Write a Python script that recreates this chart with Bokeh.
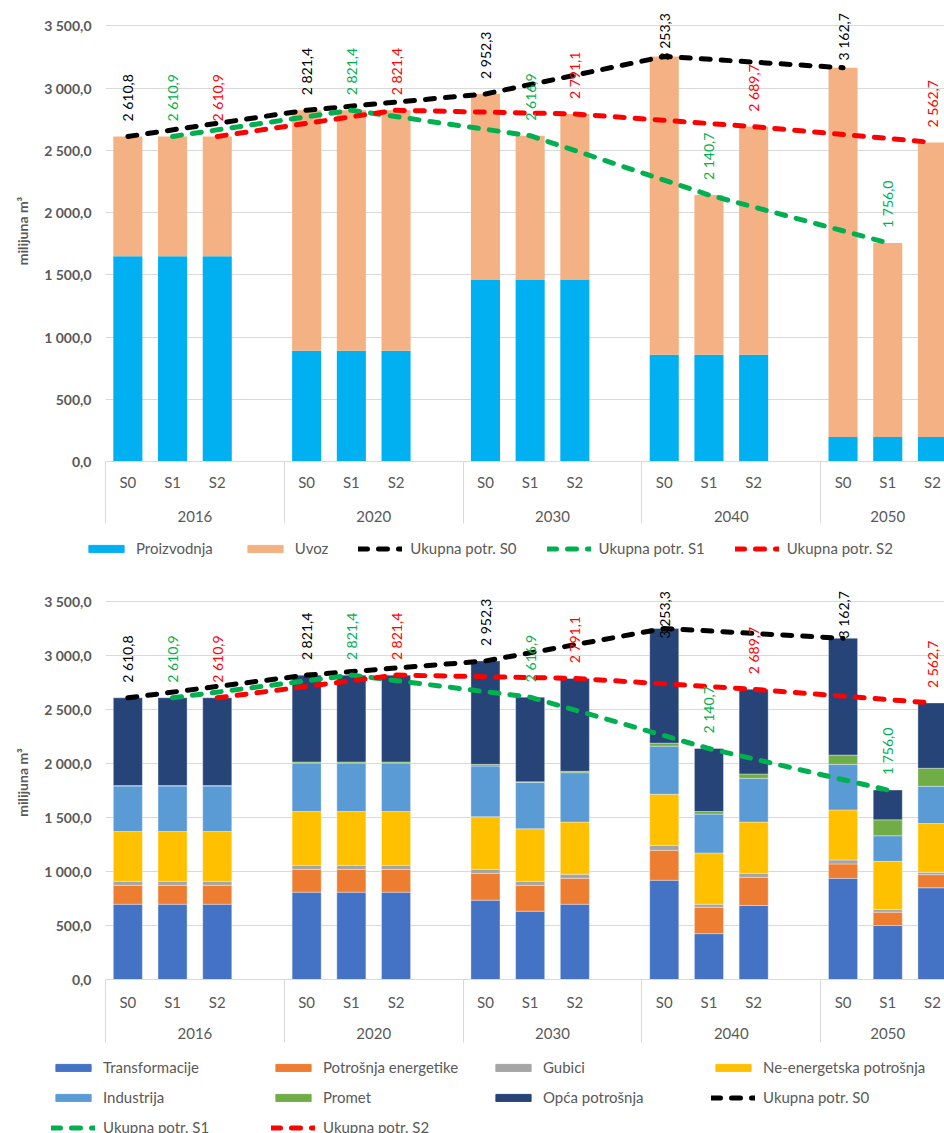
import math
from bokeh.plotting import figure
from bokeh.models import (ColumnDataSource, FixedTicker, LinearAxis, Legend,
                          LegendItem, Range1d, Title)
from bokeh.layouts import column
from bokeh.embed import file_html
from bokeh.resources import INLINE
from bokeh.core.properties import value

# ---------------- data ----------------
years = ["2016", "2020", "2030", "2040", "2050"]
scenarios = ["S0", "S1", "S2"]

# bars ordered 2016 S0, S1, S2, 2020 S0, S1, S2, ...
proizvodnja = [1648, 1648, 1648, 890, 890, 890, 1462, 1462, 1462, 858, 858, 858, 197, 197, 197]
uvoz = [963, 963, 963, 1931, 1931, 1931, 1490, 1155, 1329, 2395, 1283, 1832, 2966, 1559, 2366]

ukupna_s0 = [2610.8, 2821.4, 2952.3, 3253.3, 3162.7]
ukupna_s1 = [2610.9, 2821.4, 2616.9, 2140.7, 1756.0]
ukupna_s2 = [2610.9, 2821.4, 2791.1, 2689.7, 2562.7]

transformacije = [698, 698, 698, 809, 809, 809, 735, 633, 698, 920, 425, 686, 938, 500, 850]
potrosnja_energetike = [175, 175, 175, 212, 212, 212, 249, 240, 240, 277, 245, 261, 133, 124, 122]
gubici = [37, 37, 37, 37, 37, 37, 37, 37, 37, 46, 28, 37, 37, 25, 22]
ne_energetska = [462, 462, 462, 499, 499, 499, 487, 487, 484, 474, 475, 475, 464, 446, 452]
industrija = [422, 422, 422, 449, 449, 449, 471, 431, 458, 446, 360, 406, 422, 237, 345]
promet = [3, 3, 3, 10, 10, 10, 15, 4, 13, 28, 24, 40, 86, 148, 167]
opca = [814, 814, 814, 805, 805, 805, 958, 785, 861, 1062, 584, 785, 1083, 276, 605]

y_tick_values = [0, 500, 1000, 1500, 2000, 2500, 3000, 3500]

# ---------------- styling / layout ----------------
FONT = "Lato"
GRAY = "#595959"
GRID = "#d9d9d9"
LINE_COLORS = ["#000000", "#00B050", "#FF0000"]
TOP_COLORS = ["#00B0F0", "#F4B183"]
BOT_COLORS = ["#4472C4", "#ED7D31", "#A5A5A5", "#FFC000", "#5B9BD5", "#70AD47", "#264478"]
LINE_KW = dict(line_width=5, line_dash="9 11", line_cap="round")
SLOT_PX = 44.7
FIG_W = 944
LEFT = 105
FRAME_W = FIG_W - LEFT
X_START = -0.5
X_END = X_START + FRAME_W / SLOT_PX
BAR_W = 0.65

# categorical slots: 4 per year (S0, S1, S2, blank); last year without blank
bar_x = [4 * g + s for g in range(len(years)) for s in range(len(scenarios))]
line_x = [[4 * g + s for g in range(len(years))] for s in range(len(scenarios))]
group_centers = [4 * g + 1.5 for g in range(len(years) - 1)] + [4 * (len(years) - 1) + 1]
separators = [4 * g - 0.5 for g in range(len(years))]
sub_labels = {x: scenarios[i % 3] for i, x in enumerate(bar_x)}
year_labels = {c: y for c, y in zip(group_centers, years)}


def fmt(v):
    return f"{v:,.1f}".replace(",", " ").replace(".", ",")


def make_fig(height, top, frame_h, px_per_unit, sep_len, sub_standoff, year_standoff,
             title_offset):
    y_end = frame_h / px_per_unit
    p = figure(width=FIG_W, height=height, output_backend="svg", toolbar_location=None,
               title=None, x_range=Range1d(X_START, X_END), y_range=Range1d(0, y_end),
               min_border_left=LEFT, min_border_right=0, min_border_top=top,
               min_border_bottom=height - top - frame_h)
    p.outline_line_color = None
    p.background_fill_color = "white"
    p.border_fill_color = "white"
    p.xgrid.grid_line_color = None
    p.ygrid.ticker = FixedTicker(ticks=y_tick_values)
    p.ygrid.grid_line_color = GRID
    p.ygrid.grid_line_width = 1

    ya = p.yaxis[0]
    ya.ticker = FixedTicker(ticks=y_tick_values)
    ya.major_label_overrides = {v: fmt(v) for v in y_tick_values}
    ya.axis_line_color = None
    ya.major_tick_line_color = None
    ya.minor_tick_line_color = None
    ya.major_tick_out = 0
    ya.minor_tick_out = 0
    ya.major_label_text_font = FONT
    ya.major_label_text_font_style = "bold"
    ya.major_label_text_font_size = "14px"
    ya.major_label_text_color = GRAY
    ya.major_label_standoff = 14
    p.add_layout(Title(text="milijuna m³", align="center", offset=title_offset,
                       standoff=22, text_font=FONT, text_font_size="14px",
                       text_font_style="bold", text_color=GRAY), "left")

    xa = p.xaxis[0]
    xa.ticker = FixedTicker(ticks=bar_x, minor_ticks=separators)
    xa.major_label_overrides = sub_labels
    xa.axis_line_color = GRID
    xa.major_tick_line_color = None
    xa.major_tick_out = 0
    xa.major_tick_in = 0
    xa.minor_tick_line_color = GRID
    xa.minor_tick_in = 0
    xa.minor_tick_out = sep_len
    xa.major_label_standoff = sub_standoff - sep_len
    xa.major_label_text_font = FONT
    xa.major_label_text_font_size = "15px"
    xa.major_label_text_color = GRAY

    xa2 = LinearAxis(ticker=FixedTicker(ticks=group_centers), major_label_overrides=year_labels)
    xa2.axis_line_color = None
    xa2.major_tick_line_color = None
    xa2.minor_tick_line_color = None
    xa2.major_tick_out = 0
    xa2.minor_tick_out = 0
    xa2.major_label_standoff = year_standoff
    xa2.major_label_text_font = FONT
    xa2.major_label_text_font_size = "15px"
    xa2.major_label_text_color = GRAY
    p.add_layout(xa2, "below")
    return p, y_end


def add_lines(p, y_end, px_per_unit, clamp_from_top):
    series = [ukupna_s0, ukupna_s1, ukupna_s2]
    for s in range(3):
        p.line(line_x[s], series[s], line_color=LINE_COLORS[s], **LINE_KW)
    for s in range(3):
        vals = series[s]
        offs = []
        for v in vals:
            pt = (y_end - v) * px_per_unit
            start = max(pt - 15, clamp_from_top)
            offs.append(start - pt)
        src = ColumnDataSource(dict(x=line_x[s], y=vals, t=[fmt(v) for v in vals], off=offs))
        p.text(x="x", y="y", text="t", source=src, angle=math.pi / 2, text_align="left",
               text_baseline="middle", y_offset="off", text_font=value(FONT),
               text_font_size="14px", text_color=LINE_COLORS[s])


def legend_fig(height, bar_labels, bar_colors, line_labels, loc, **kw):
    f = figure(width=FIG_W, height=height, output_backend="svg", toolbar_location=None,
               title=None, x_range=Range1d(0, 1), y_range=Range1d(0, 1),
               x_axis_location=None, y_axis_location=None, frame_align=False,
               min_border_left=0, min_border_right=0, min_border_top=0, min_border_bottom=0)
    f.outline_line_color = None
    f.xgrid.grid_line_color = None
    f.ygrid.grid_line_color = None
    items = []
    # placeholder renderers (outside the visible range) that only carry legend styling
    for lab, col in zip(bar_labels, bar_colors):
        r = f.vbar(x=[-10], top=[0], width=0.1, color=col)
        items.append(LegendItem(label=lab, renderers=[r]))
    for lab, col in zip(line_labels, LINE_COLORS):
        r = f.line(x=[-10, -9], y=[0, 0], line_color=col, **LINE_KW)
        items.append(LegendItem(label=lab, renderers=[r]))
    lg = Legend(items=items, location=loc, padding=0, margin=0, border_line_color=None,
                background_fill_alpha=0, glyph_width=44, glyph_height=9,
                label_standoff=8, label_height=20, label_text_font=FONT,
                label_text_font_size="15px", label_text_color=GRAY,
                orientation="horizontal", **kw)
    f.add_layout(lg)
    return f


line_labels = ["Ukupna potr. S0", "Ukupna potr. S1", "Ukupna potr. S2"]

# ---------------- top chart ----------------
H1, TOP1, FH1, S1PX = 536, 0, 461, 0.1245
p1, yend1 = make_fig(H1, TOP1, FH1, S1PX, 62, 11, 17, 31)
src1 = ColumnDataSource(dict(x=bar_x, proizvodnja=proizvodnja, uvoz=uvoz))
p1.vbar_stack(["proizvodnja", "uvoz"], x="x", width=BAR_W, source=src1,
              color=TOP_COLORS, line_color=None)
add_lines(p1, yend1, S1PX, 60)
leg1 = legend_fig(30, ["Proizvodnja", "Uvoz"], TOP_COLORS, line_labels, (84, 8), spacing=30)

# ---------------- bottom chart ----------------
H2, TOP2, FH2, S2PX = 483, 19, 394, 0.10789
p2, yend2 = make_fig(H2, TOP2, FH2, S2PX, 63, 13, 14, 8)
names2 = ["transformacije", "potrosnja_energetike", "gubici", "ne_energetska",
          "industrija", "promet", "opca"]
labels2 = ["Transformacije", "Potrošnja energetike", "Gubici", "Ne-energetska potrošnja",
           "Industrija", "Promet", "Opća potrošnja"]
src2 = ColumnDataSource(dict(x=bar_x, transformacije=transformacije,
                             potrosnja_energetike=potrosnja_energetike, gubici=gubici,
                             ne_energetska=ne_energetska, industrija=industrija,
                             promet=promet, opca=opca))
p2.vbar_stack(names2, x="x", width=BAR_W, source=src2, color=BOT_COLORS,
              line_color="white", line_width=0.7, line_alpha=0.5)
add_lines(p2, yend2, S2PX, 53)
leg2 = legend_fig(84, labels2, BOT_COLORS, line_labels, (51, -4), ncols=4, spacing=10,
                  label_width=158)

layout = column(p1, leg1, p2, leg2)
open("out.html", "w").write(file_html(layout, INLINE))
